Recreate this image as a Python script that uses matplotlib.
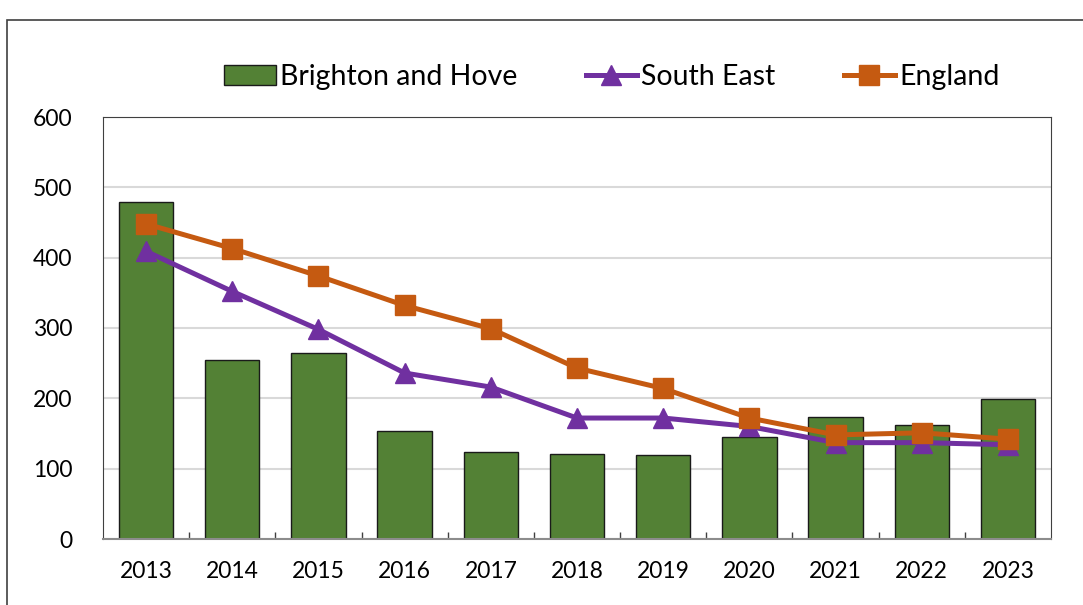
import matplotlib.pyplot as plt
from matplotlib.patches import Rectangle
from matplotlib.ticker import FixedLocator

years = ["2013", "2014", "2015", "2016", "2017", "2018", "2019", "2020", "2021", "2022", "2023"]
brighton = [479, 255, 264, 154, 123, 121, 119, 145, 174, 162, 199]
south_east = [409, 352, 298, 236, 216, 172, 172, 160, 137, 137, 134]
england = [448, 413, 374, 332, 299, 243, 214, 172, 148, 151, 142]

plt.rcParams["font.family"] = ["Lato", "DejaVu Sans"]

green = "#538135"
purple = "#7030a0"
orange = "#c55a11"

fig = plt.figure(figsize=(10.83, 6.05), dpi=100)
fig.patches.append(Rectangle((7 / 1083, -0.05), 1.1, 1 - 20 / 605 + 0.05, transform=fig.transFigure,
                             fill=False, edgecolor="#404040", linewidth=1.2))

ax = fig.add_axes([103 / 1083, 1 - 539 / 605, 948 / 1083, 422 / 605])
x = list(range(len(years)))

b = ax.bar(x, brighton, width=0.63, color=green, edgecolor="#1a1a1a", linewidth=1.0, zorder=2)
l1, = ax.plot(x, south_east, color=purple, linewidth=3.6, marker="^", markersize=14, zorder=3)
l2, = ax.plot(x, england, color=orange, linewidth=3.6, marker="s", markersize=14, zorder=4)

ax.set_xlim(-0.5, len(years) - 0.5)
ax.set_ylim(0, 600)
ax.set_yticks(range(0, 601, 100))
ax.set_xticks(x)
ax.set_xticklabels(years)
ax.tick_params(axis="x", length=0, labelsize=16.5, pad=16)
ax.tick_params(axis="y", length=0, labelsize=16.5, pad=22)
ax.xaxis.set_minor_locator(FixedLocator([i + 0.5 for i in x[:-1]]))
ax.tick_params(axis="x", which="minor", direction="in", length=5, color="#404040", width=1)
ax.grid(axis="y", color="#d9d9d9", linewidth=1.5, zorder=0)
ax.set_axisbelow(True)
for side in ["left", "top", "right"]:
    ax.spines[side].set_color("#404040")
    ax.spines[side].set_linewidth(0.8)
ax.spines["bottom"].set_color("#8c8c8c")
ax.spines["bottom"].set_linewidth(1.5)

fig.legend([b, l1, l2], ["Brighton and Hove", "South East", "England"],
           loc="center", bbox_to_anchor=(0.565, 1 - 77 / 605), ncol=3, frameon=False,
           fontsize=20.5, handlelength=1.8, handletextpad=0.15, columnspacing=2.4)

plt.savefig("out.png", dpi=100)
plt.close()
